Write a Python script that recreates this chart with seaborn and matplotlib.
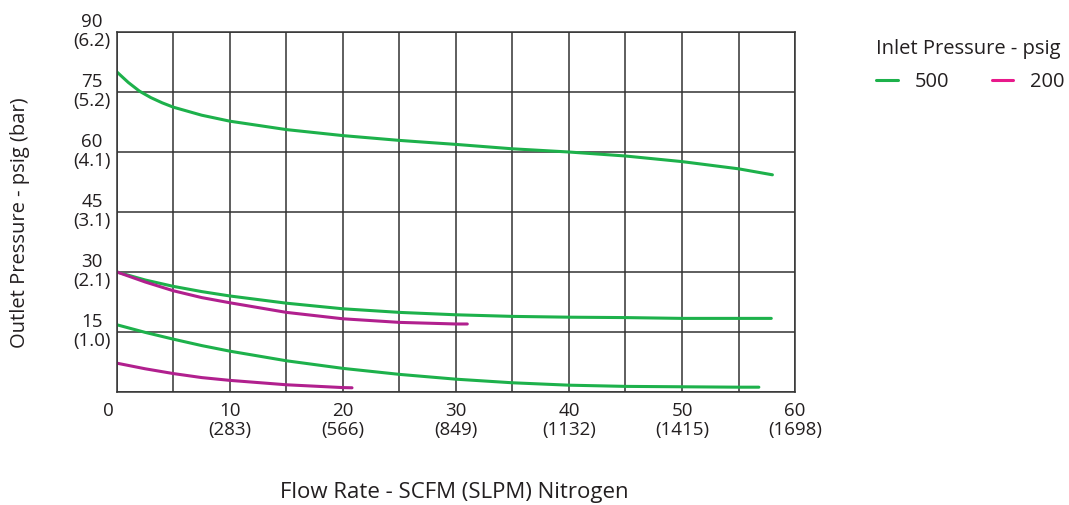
import pandas as pd
import matplotlib.pyplot as plt
import seaborn as sns
from matplotlib.lines import Line2D

# Flow rate (SCFM) and outlet pressure (psig)
x_top = [0, 1, 2, 3, 4, 5, 7.5, 10, 15, 20, 25, 30, 35, 40, 45, 50, 55, 58]
y_top = [80.0, 77.4, 75.2, 73.6, 72.3, 71.2, 69.2, 67.7, 65.6, 64.1, 62.9, 61.9, 60.8, 60.0, 59.0, 57.6, 55.8, 54.3]

x_mid = [0, 2.5, 5, 7.5, 10, 15, 20, 25, 30, 35, 40, 45, 50, 55, 57.9]
y_mid = [30.0, 28.0, 26.4, 25.1, 24.0, 22.2, 20.8, 19.9, 19.3, 18.9, 18.7, 18.6, 18.4, 18.4, 18.4]

x_low = [0, 2.5, 5, 7.5, 10, 15, 20, 25, 30, 35, 40, 45, 50, 55, 56.8]
y_low = [16.8, 14.9, 13.2, 11.6, 10.2, 7.8, 5.9, 4.4, 3.2, 2.3, 1.7, 1.4, 1.3, 1.2, 1.2]

x_m_up = [0, 2.5, 5, 7.5, 10, 15, 20, 25, 30, 31]
y_m_up = [30.0, 27.5, 25.3, 23.6, 22.3, 19.9, 18.3, 17.4, 17.0, 17.0]

x_m_low = [0, 2.5, 5, 7.5, 10, 15, 20, 20.8]
y_m_low = [7.2, 5.8, 4.6, 3.6, 2.9, 1.8, 1.1, 1.05]

curves = [
    ("500", x_top, y_top),
    ("500", x_mid, y_mid),
    ("500", x_low, y_low),
    ("200", x_m_up, y_m_up),
    ("200", x_m_low, y_m_low),
]

x_ticks = [0, 10, 20, 30, 40, 50, 60]
x_labels = ["0", "10\n(283)", "20\n(566)", "30\n(849)", "40\n(1132)", "50\n(1415)", "60\n(1698)"]
y_ticks = [15, 30, 45, 60, 75, 90]
y_labels = ["15\n(1.0)", "30\n(2.1)", "45\n(3.1)", "60\n(4.1)", "75\n(5.2)", "90\n(6.2)"]

green = "#1db14b"
magenta = "#b1208e"
legend_magenta = "#e8198b"
ink = "#231f20"

sns.set_style("white")
plt.rcParams["font.family"] = ["Open Sans", "DejaVu Sans"]

fig = plt.figure(figsize=(10.69, 5.05), dpi=100)
ax = fig.add_axes([0.1094, 0.2238, 0.6343, 0.7128])

for inlet, xs, ys in curves:
    df = pd.DataFrame({"flow": xs, "outlet": ys})
    sns.lineplot(data=df, x="flow", y="outlet", ax=ax, sort=False,
                 color=green if inlet == "500" else magenta, linewidth=2.2)

ax.set_xlim(0, 60)
ax.set_ylim(0, 90)
ax.set_xticks(range(0, 61, 5))
ax.set_yticks(range(0, 91, 15))
ax.grid(True, color="#333333", linewidth=1.1)
ax.tick_params(length=0)
ax.set_xticklabels([])
ax.set_yticklabels([])
ax.set_xlabel("")
ax.set_ylabel("")
for s in ax.spines.values():
    s.set_color("#333333")
    s.set_linewidth(1.1)

for xv, lab in zip(x_ticks, x_labels):
    dx = -0.8 if xv == 0 else 0
    ax.text(xv + dx, -2.4, lab, ha="center", va="top", fontsize=13.5,
            color=ink, linespacing=1.1)
for yv, lab in zip(y_ticks, y_labels):
    ax.text(-0.55, yv + 0.1, lab, ha="right", va="center", fontsize=13.5,
            color=ink, multialignment="center", linespacing=1.1)

fig.text(0.4247, 0.024, "Flow Rate - SCFM (SLPM) Nitrogen", ha="center", va="center",
         fontsize=16, color=ink)
fig.text(0.019, 0.56, "Outlet Pressure - psig (bar)", ha="center", va="center",
         rotation=90, fontsize=14.5, color=ink)

handles = [Line2D([], [], color=green, linewidth=2.2),
           Line2D([], [], color=legend_magenta, linewidth=2.2)]
leg = fig.legend(handles, ["500", "200"], title="Inlet Pressure - psig", ncol=2,
                 loc="upper left", bbox_to_anchor=(0.8105, 0.942), frameon=False,
                 fontsize=14.5, title_fontsize=14.5, handlelength=1.05,
                 columnspacing=2.1, handletextpad=0.85, borderpad=0,
                 labelspacing=0.65, alignment="left")
leg.get_title().set_color(ink)
for t in leg.get_texts():
    t.set_color(ink)

fig.savefig("out.png", dpi=100)
